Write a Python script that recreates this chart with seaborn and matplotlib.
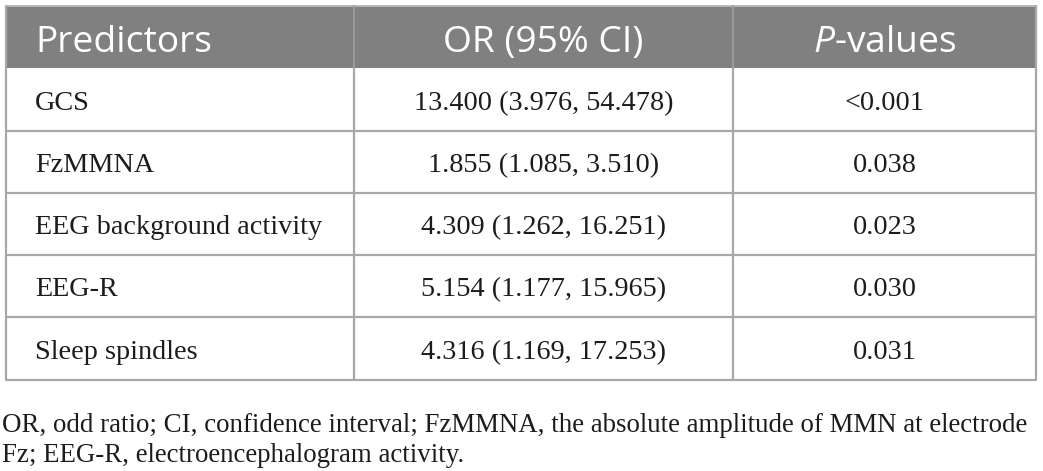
import matplotlib
matplotlib.use("Agg")
import matplotlib.pyplot as plt
from matplotlib.patches import Rectangle
import seaborn as sns

# ---- data ----
headers = ["Predictors", "OR (95% CI)", "$P$-values"]
predictors = ["GCS", "FzMMNA", "EEG background activity", "EEG-R", "Sleep spindles"]
or_ci = ["13.400 (3.976, 54.478)", "1.855 (1.085, 3.510)", "4.309 (1.262, 16.251)",
         "5.154 (1.177, 15.965)", "4.316 (1.169, 17.253)"]
p_values = ["<0.001", "0.038", "0.023", "0.030", "0.031"]
footnote_lines = [
    "OR, odd ratio; CI, confidence interval; FzMMNA, the absolute amplitude of MMN at electrode",
    "Fz; EEG-R, electroencephalogram activity.",
]

sns.set_theme(style="white")
plt.rcParams["font.family"] = ["Liberation Serif", "DejaVu Serif"]
plt.rcParams["mathtext.fontset"] = "custom"
plt.rcParams["mathtext.rm"] = "Open Sans"
plt.rcParams["mathtext.it"] = "Open Sans:italic"

W, H = 1043, 471
fig = plt.figure(figsize=(W / 100, H / 100), dpi=100)
ax = fig.add_axes([0, 0, 1, 1])
ax.set_xlim(0, W)
ax.set_ylim(H, 0)
ax.axis("off")

left, right = 6, 1036
col_x = [left, 354, 733, right]
top = 6
head_h = 62
row_edges = [68, 131, 193, 255, 317, 380]
grid_c = "#a8a8a8"
head_c = "#808080"
txt_c = "#1c1c1c"

# header band
ax.add_patch(Rectangle((left, top), right - left, head_h, facecolor=head_c,
                       edgecolor="none", zorder=1))
# lines
for y in row_edges[1:]:
    ax.plot([left, right], [y, y], color=grid_c, lw=1.6, zorder=2, solid_capstyle="butt")
ax.plot([left, right], [top, top], color="#b8b8b8", lw=1.4, zorder=2)
for x in [left, right]:
    ax.plot([x, x], [top, row_edges[-1]], color=grid_c, lw=1.6, zorder=2)
for x in col_x[1:3]:
    ax.plot([x, x], [top, row_edges[0]], color="#9a9a9a", lw=1.4, zorder=2)
    ax.plot([x, x], [row_edges[0], row_edges[-1]], color=grid_c, lw=1.6, zorder=2)

head_fs = 26.8
body_fs = 20.3
# header text
hy = top + head_h / 2 + 1
ax.text(35, hy, headers[0], color="white", fontsize=head_fs, family="Open Sans",
        ha="left", va="center_baseline", zorder=3)
ax.text((col_x[1] + col_x[2]) / 2, hy, headers[1], color="white", fontsize=head_fs,
        family="Open Sans", ha="center", va="center_baseline", zorder=3)
ax.text((col_x[2] + col_x[3]) / 2, hy, headers[2], color="white", fontsize=head_fs,
        family="Open Sans", ha="center", va="center_baseline", zorder=3)

# body
for i, (p, o, pv) in enumerate(zip(predictors, or_ci, p_values)):
    cy = (row_edges[i] + row_edges[i + 1]) / 2 + 1
    ax.text(35, cy, p, color=txt_c, fontsize=body_fs, ha="left",
            va="center_baseline", zorder=3)
    ax.text((col_x[1] + col_x[2]) / 2, cy, o, color=txt_c, fontsize=body_fs,
            ha="center", va="center_baseline", zorder=3)
    ax.text((col_x[2] + col_x[3]) / 2, cy, pv, color=txt_c, fontsize=body_fs,
            ha="center", va="center_baseline", zorder=3)

# footnote
for j, line in enumerate(footnote_lines):
    ax.text(2, 432 + 30 * j, line, color=txt_c, fontsize=19.4, ha="left",
            va="baseline", zorder=3)

fig.savefig("out.png", dpi=100, facecolor="white")
